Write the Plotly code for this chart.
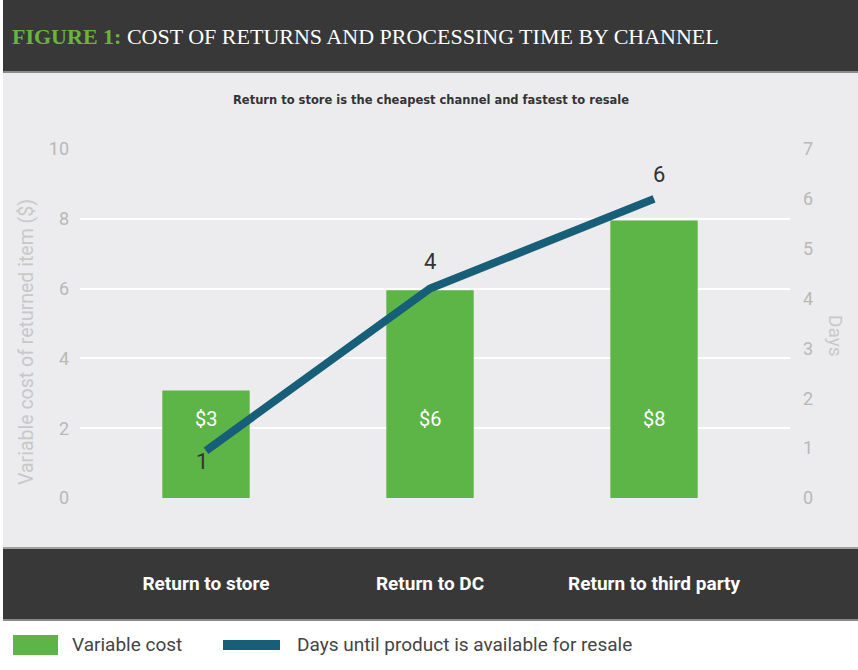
import plotly.graph_objects as go

# DATA
channels = ["Return to store", "Return to DC", "Return to third party"]
cost = [3.08, 5.95, 7.95]
cost_labels = ["$3", "$6", "$8"]
days = [0.95, 4.2, 6.0]
days_labels = ["1", "4", "6"]
cost_ticks = [0, 2, 4, 6, 8, 10]
day_ticks = [0, 1, 2, 3, 4, 5, 6, 7]

# COLOURS / FONTS
GREEN = "#5cb546"
TEAL = "#175e78"
DARK = "#383838"
LIGHT = "#ececee"
TICK = "#b8b8b8"
FONT = "Roboto"

# plot area in pixels (858 x 670 page)
W, H = 858, 670
L, R, T, B = 80, 790, 149, 498


def px_x(px):
    return (px - L) / (R - L)


def px_y(py):
    return (B - py) / (B - T)


fig = go.Figure()

fig.add_trace(go.Bar(
    x=channels, y=cost, name="Variable cost",
    marker=dict(color=GREEN, line=dict(width=0)),
    width=0.39, yaxis="y", hoverinfo="skip",
))

fig.add_trace(go.Scatter(
    x=channels, y=days, name="Days until product is available for resale",
    mode="lines", yaxis="y2",
    line=dict(color=TEAL, width=8),
    hoverinfo="skip",
))

# value labels inside bars
for ch, lab in zip(channels, cost_labels):
    fig.add_annotation(x=ch, y=2.25, xref="x", yref="y", text=lab, showarrow=False,
                       font=dict(family=FONT, size=20, color="white"))

# day labels next to the line points
label_shift = [(-4, -11), (0, 27), (5, 24)]
for ch, d, lab, (dx, dy) in zip(channels, days, days_labels, label_shift):
    fig.add_annotation(x=ch, y=d, xref="x", yref="y2", text=lab, showarrow=False,
                       xshift=dx, yshift=dy,
                       font=dict(family=FONT, size=22, color="#333333"))

##### BACKGROUND BANDS
shapes = []
def rect(x0, y0, x1, y1, color, layer="below"):
    shapes.append(dict(type="rect", xref="paper", yref="paper",
                       x0=px_x(x0), x1=px_x(x1), y0=px_y(y0), y1=px_y(y1),
                       fillcolor=color, line=dict(width=0), layer=layer))

rect(3, 72, W, 548, LIGHT)
rect(3, 0, W, 71, DARK)
rect(3, 71, W, 73, "#8a8a8a")
rect(3, 548, W, 620, DARK)
rect(3, 547, W, 549, "#a0a0a0")
rect(3, 619, W, 621, "#8a8a8a")

# legend swatches
rect(13, 635, 58, 655, GREEN, layer="above")
shapes.append(dict(type="line", xref="paper", yref="paper",
                   x0=px_x(223), x1=px_x(280), y0=px_y(645), y1=px_y(645),
                   line=dict(color=TEAL, width=10), layer="above"))

##### TEXTS
def note(text, x, y, size, color, xanchor="center", textangle=0, bold=False, family=FONT):
    fig.add_annotation(xref="paper", yref="paper", x=px_x(x), y=px_y(y),
                       text=f"<b>{text}</b>" if bold else text, showarrow=False,
                       xanchor=xanchor, yanchor="middle", textangle=textangle,
                       font=dict(family=family, size=size, color=color))

note('<span style="color:#6ab43e"><b>FIGURE 1:</b></span> COST OF RETURNS AND PROCESSING TIME BY CHANNEL',
     10, 37, 22, "white", xanchor="left", family="Liberation Serif, serif")
note("Return to store is the cheapest channel and fastest to resale", 431, 100, 11.5, "#333333",
     bold=True, family="DejaVu Sans")
note("Variable cost of returned item ($)", 26, 342, 19.5, "#c8c8c8", textangle=-90)
note("Days", 836, 336, 19, "#c8c8c8", textangle=90)
note("Variable cost", 70, 644, 19, "#444444", xanchor="left")
note("Days until product is available for resale", 295, 644, 19, "#444444", xanchor="left")

fig.update_layout(
    width=W, height=H,
    margin=dict(l=L, r=W - R, t=T, b=H - B, pad=0),
    paper_bgcolor="white", plot_bgcolor="rgba(0,0,0,0)",
    showlegend=False, shapes=shapes,
    font=dict(family=FONT),
    xaxis=dict(
        range=[-0.5625, 2.607], showgrid=False, zeroline=False, showline=False,
        ticks="", ticklabelstandoff=72,
        tickfont=dict(family=FONT, size=19, color="white", weight="bold"),
    ),
    yaxis=dict(
        range=[0, 10], tickvals=cost_ticks, showgrid=True, gridcolor="white", gridwidth=2,
        zeroline=False, showline=False, ticks="", ticklabelstandoff=10,
        tickfont=dict(family=FONT, size=18, color=TICK),
    ),
    yaxis2=dict(
        range=[0, 7], tickvals=day_ticks, overlaying="y", side="right",
        showgrid=False, zeroline=False, showline=False, ticks="", ticklabelstandoff=12,
        tickfont=dict(family=FONT, size=18, color=TICK),
    ),
)

# page body margin off so the figure sits at the window corner
fig.write_html("out.html", config={"displayModeBar": False},
               post_script="document.body.style.margin='0';")
